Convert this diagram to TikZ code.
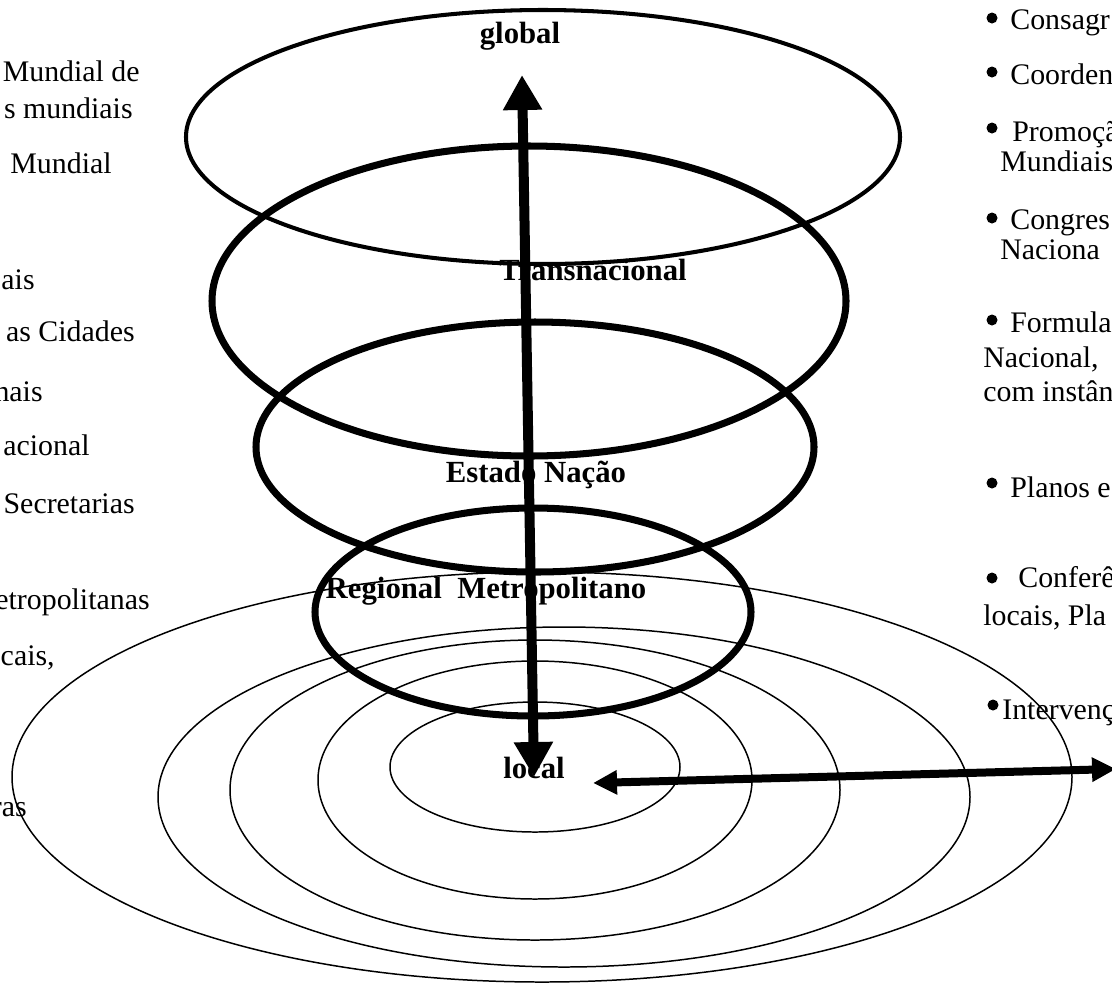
\documentclass[tikz,border=0pt]{standalone}
\usepackage{fontspec}
\setmainfont{Liberation Serif}
\usetikzlibrary{arrows.meta}
\tikzset{
    % Level rings
    ring/.style={draw=black, line width=#1},
    ring/.default=0.85pt,
    % Scale labels
    level label/.style={font=\fontsize{17.5}{20}\selectfont\bfseries, anchor=base, inner sep=0pt},
    % Side texts
    side text/.style={font=\fontsize{17}{19}\selectfont, inner sep=0pt},
    bullet dot/.style={circle, fill=black, inner sep=0pt, minimum size=0.22cm},
    % Arrows
    scale arrow/.style={{Triangle[length=0.7cm, width=0.74cm]}-{Triangle[length=0.7cm, width=0.74cm]}, line width=0.2cm},
    reach arrow/.style={{Triangle[length=0.48cm, width=0.46cm]}-{Triangle[length=0.48cm, width=0.46cm]}, line width=0.16cm}
}
\begin{document}
\begin{tikzpicture}[x=0.02cm, y=-0.02cm]
    \clip (0,0) rectangle (1112,985);
    \fill[white] (0,0) rectangle (1112,985);

    % Left column (cut at the page edge)
    \node[side text, anchor=mid east] (l1) at (140,77) {Mundial de};
    \node[side text, anchor=mid east] (l2) at (133,114) {s mundiais};
    \node[side text, anchor=mid east] (l3) at (112,169) {Mundial};
    \node[side text, anchor=mid east] (l4) at (35,285) {ais};
    \node[side text, anchor=mid east] (l5) at (135,337) {as Cidades};
    \node[side text, anchor=mid east] (l6) at (43,397) {nais};
    \node[side text, anchor=mid east] (l7) at (90,451) {acional};
    \node[side text, anchor=mid east] (l8) at (135,509) {Secretarias};
    \node[side text, anchor=mid east] (l9) at (150,605) {etropolitanas};
    \node[side text, anchor=mid east] (l10) at (55,661) {cais,};
    \node[side text, anchor=mid east] (l11) at (27,812) {ras};

    % Right column (cut at the page edge)
    \node[bullet dot] (b1) at (992,18) {};
    \node[side text, anchor=mid west] (r1) at (1010,25) {Consagr};
    \node[bullet dot] (b2) at (992,72) {};
    \node[side text, anchor=mid west] (r2) at (1010,80) {Coorden};
    \node[bullet dot] (b3) at (992,128) {};
    \node[side text, anchor=mid west] (r3) at (1012,137) {Promoçã};
    \node[side text, anchor=mid west] (r3b) at (1000,167) {Mundiais};
    \node[bullet dot] (b4) at (992,218) {};
    \node[side text, anchor=mid west] (r4) at (1010,225) {Congres};
    \node[side text, anchor=mid west] (r4b) at (1000,255) {Naciona};
    \node[bullet dot] (b5) at (992,320) {};
    \node[side text, anchor=mid west] (r5) at (1010,328) {Formula};
    \node[side text, anchor=mid west] (r5b) at (983,363) {Nacional,};
    \node[side text, anchor=mid west] (r5c) at (983,397) {com instân};
    \node[bullet dot] (b6) at (992,483) {};
    \node[side text, anchor=mid west] (r6) at (1010,493) {Planos e};
    \node[bullet dot] (b7) at (992,578) {};
    \node[side text, anchor=mid west] (r7) at (1018,583) {Conferê};
    \node[side text, anchor=mid west] (r7b) at (983,621) {locais, Pla};
    \node[bullet dot] (b8) at (993,705) {};
    \node[side text, anchor=mid west] (r8) at (1002,715) {Intervenç};

    % Scale labels
    \node[level label] (global) at (520,43) {global};
    \node[level label] (trans) at (593,280) {Transnacional};
    \node[level label] (nation) at (536,482) {Estado Nação};
    \node[level label] (region) at (486,598) {Regional\ \ Metropolitano};
    \node[level label] (local) at (534,778) {local};

    % Local rings
    \draw[ring] (542,777) ellipse (530 and 205);
    \draw[ring] (564,797) ellipse (406 and 170);
    \draw[ring] (535,790) ellipse (305 and 150);
    \draw[ring] (535,780) ellipse (217 and 119);
    \draw[ring] (535,767) ellipse (145 and 65);

    % Upper rings
    \draw[ring=2.3pt] (543,137) ellipse (357 and 127);
    \draw[ring=4pt] (529,301) ellipse (317 and 155);
    \draw[ring=4pt] (535,447) ellipse (279 and 125);
    \draw[ring=4pt] (533,612) ellipse (218 and 104);

    % Arrows
    \coordinate (top tip) at (522,75);
    \coordinate (bottom tip) at (534,777);
    \coordinate (local tip) at (593,783);
    \coordinate (far tip) at (1116,769);
    \draw[scale arrow] (top tip) -- (bottom tip);
    \draw[reach arrow] (local tip) -- (far tip);
\end{tikzpicture}
\end{document}
